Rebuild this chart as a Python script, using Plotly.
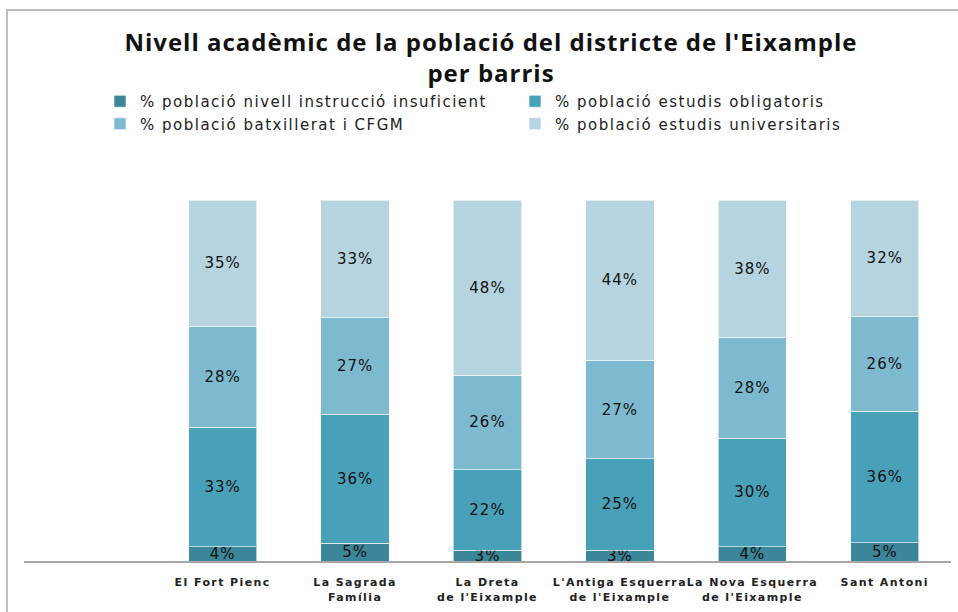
import plotly.graph_objects as go

barris = ["El Fort Pienc", "La Sagrada<br>Família", "La Dreta<br>de l'Eixample",
          "L'Antiga Esquerra<br>de l'Eixample", "La Nova Esquerra<br>de l'Eixample", "Sant Antoni"]
series_names = ["% població nivell instrucció insuficient", "% població estudis obligatoris",
                "% població batxillerat i CFGM", "% població estudis universitaris"]
insuficient = [4, 5, 3, 3, 4, 5]
obligatoris = [33, 36, 22, 25, 30, 36]
batxillerat = [28, 27, 26, 27, 28, 26]
universitaris = [35, 33, 48, 44, 38, 32]
colors = ["#3B8698", "#49A1B9", "#7EBACF", "#B6D4DF"]

W, H = 958, 612
L, R, T, B = 24, 7, 200, 51
pw, ph = W - L - R, H - T - B

fig = go.Figure()
for name, vals, col in zip(series_names, [insuficient, obligatoris, batxillerat, universitaris], colors):
    fig.add_trace(go.Bar(
        x=barris, y=vals, name=name,
        marker=dict(color=col, line=dict(color="rgba(255,255,255,0.6)", width=1)),
        text=[f"{v}%" for v in vals], textposition="inside", insidetextanchor="middle",
        constraintext="none", textangle=0,
        textfont=dict(family="DejaVu Sans", size=15, color="#111111"),
        cliponaxis=False, hoverinfo="skip",
    ))

def px2paper_x(px):
    return (px - L) / pw

def px2paper_y(py):
    return (H - B - py) / ph

fig.update_layout(
    width=W, height=H, barmode="stack", barnorm="percent", bargap=0.485,
    margin=dict(l=L, r=R, t=T, b=B),
    plot_bgcolor="white", paper_bgcolor="white",
    title=dict(text="<b>Nivell acadèmic de la població del districte de l'Eixample<br>per barris</b>",
               x=491 / W, xanchor="center", xref="container", y=1 - 51 / H, yanchor="top",
               font=dict(family="Open Sans", size=24, color="#111111")),
    showlegend=True,
    legend=dict(orientation="h", x=px2paper_x(100), xanchor="left", y=px2paper_y(85), yanchor="top",
                entrywidth=370, entrywidthmode="pixels", traceorder="normal",
                font=dict(family="DejaVu Sans", size=15, color="#222222"),
                itemclick=False, itemdoubleclick=False),
    xaxis=dict(range=[-1.5, 5.5], showline=True, linecolor="#A6A6A6", linewidth=2,
               ticks="", showgrid=False, fixedrange=True, ticklabelstandoff=10,
               tickfont=dict(family="DejaVu Sans", size=11, color="#222222", weight="bold")),
    yaxis=dict(range=[0, 100], visible=False, showgrid=False, fixedrange=True),
    shapes=[dict(type="path", xref="paper", yref="paper",
                 path=f"M {px2paper_x(7)} {px2paper_y(640)} L {px2paper_x(7)} {px2paper_y(10)} L {px2paper_x(980)} {px2paper_y(10)}",
                 line=dict(color="#BFBFBF", width=2))],
)

css = ("body{margin:0;overflow:hidden}"
       ".legendtext{letter-spacing:1.5px}"
       ".bartext{letter-spacing:1px}"
       ".xtick text{letter-spacing:1.4px}"
       ".gtitle{letter-spacing:1px}")
post = ("var s=document.createElement('style');s.textContent='" + css + "';"
        "document.head.appendChild(s);")
fig.write_html("out.html", post_script=post, config={"displayModeBar": False})
